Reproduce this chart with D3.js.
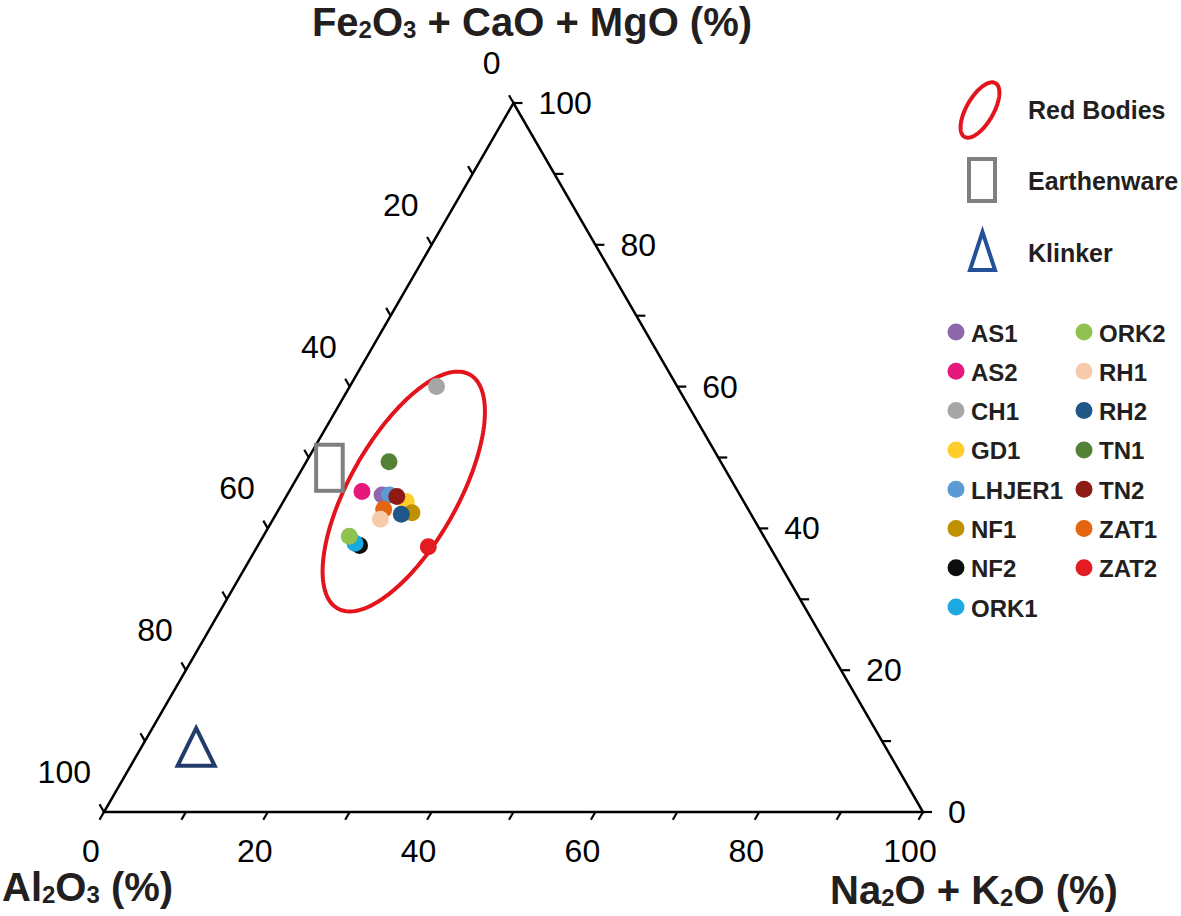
<!DOCTYPE html>
<html>
<head>
<meta charset="utf-8">
<script src="https://cdn.jsdelivr.net/npm/d3@7"></script>
<style>
  body { margin: 0; background: #fff; }
  svg { display: block; font-family: "Liberation Sans", Arial, Helvetica, sans-serif; }
</style>
</head>
<body>
<div id="chart"></div>
<script>
// Sample names, in legend order
var samples = ['AS1', 'AS2', 'CH1', 'GD1', 'LHJER1', 'NF1', 'NF2', 'ORK1',
  'ORK2', 'RH1', 'RH2', 'TN1', 'TN2', 'ZAT1', 'ZAT2'];
// Composition (%)
var al2o3  = [43.7, 45.9, 29.4, 41.2, 42.8, 41.3, 50.0, 50.4, 50.6, 45.6, 42.7, 40.5, 42.0, 44.5, 41.7];
var alkali = [11.6,  8.9, 10.6, 15.0, 12.5, 16.5, 12.4, 11.7, 10.5, 13.1, 15.3, 10.1, 13.5, 12.8, 20.9];
var femgca = [44.7, 45.2, 60.0, 43.8, 44.7, 42.2, 37.6, 37.9, 38.9, 41.3, 42.0, 49.4, 44.5, 42.7, 37.4];
var colors = ['#8d68ad', '#e5197b', '#a6a6a6', '#ffcd2c', '#5b9bd5', '#bf9000', '#0d0d0d', '#1ba9e1',
  '#8fc250', '#f8cbad', '#1f5788', '#538135', '#8e1a16', '#e3650f', '#e31b23'];
// drawing order (RH1 sits on top of ZAT1)
var drawOrder = ['AS1', 'AS2', 'CH1', 'GD1', 'LHJER1', 'NF1', 'NF2', 'ORK1',
  'ORK2', 'ZAT1', 'RH1', 'RH2', 'TN1', 'TN2', 'ZAT2'];

// Fields: [Al2O3, Na2O+K2O, Fe2O3+CaO+MgO]
var redBodiesCenter = [40.8, 14.0, 45.2];
var earthenwareCorners = [[48.2, 0.0, 51.8], [48.2, 6.5, 45.3]];
var klinkerCenter = [84.6, 7.1, 8.3];

var tickValues = d3.range(0, 101, 10);
var labelValues = d3.range(0, 101, 20);

var width = 1181, height = 916;
var ink = '#231f20';

var svg = d3.select('#chart').append('svg')
  .attr('width', width)
  .attr('height', height);

// Cartesian scales for the unit triangle
var x = d3.scaleLinear().domain([0, 1]).range([104, 923]);
var y = d3.scaleLinear().domain([0, Math.sqrt(3) / 2]).range([812, 103]);

function proj(a, b, c) {
  var s = a + b + c;
  b = b / s; c = c / s;
  return [x(b + c / 2), y(c * Math.sqrt(3) / 2)];
}

// Text with subscripts: "_2" marks a subscript digit
function richText(sel, str) {
  var parts = str.split(/(_\d)/).filter(function (d) { return d.length; });
  var shifted = false;
  parts.forEach(function (p) {
    var t = sel.append('tspan');
    if (p[0] === '_') {
      t.text(p.slice(1)).attr('font-size', '60%').attr('dy', shifted ? 0 : 2);
      shifted = true;
    } else {
      t.text(p).attr('dy', shifted ? -2 : 0);
      shifted = false;
    }
  });
}

// Triangle outline
svg.append('path')
  .attr('d', d3.line()([proj(100, 0, 0), proj(0, 100, 0), proj(0, 0, 100)]) + 'Z')
  .attr('fill', 'none')
  .attr('stroke', '#000')
  .attr('stroke-width', 2.5)
  .attr('stroke-linejoin', 'miter');

var tickLen = 9;
var axes = [
  // Al2O3 on the left edge
  { pos: function (v) { return proj(v, 0, 100 - v); }, dir: [-0.5, -0.866],
    lx: -13, ly: -29, anchor: 'end' },
  // Na2O + K2O along the bottom
  { pos: function (v) { return proj(100 - v, v, 0); }, dir: [-0.5, 0.866],
    lx: -13, ly: 50, anchor: 'middle' },
  // Fe2O3 + CaO + MgO on the right edge
  { pos: function (v) { return proj(0, 100 - v, v); }, dir: [1, 0],
    lx: 25, ly: 11, anchor: 'start' }
];

axes.forEach(function (ax) {
  var g = svg.append('g');
  g.selectAll('line')
    .data(tickValues)
    .enter()
    .append('line')
    .attr('x1', function (v) { return ax.pos(v)[0]; })
    .attr('y1', function (v) { return ax.pos(v)[1]; })
    .attr('x2', function (v) { return ax.pos(v)[0] + tickLen * ax.dir[0]; })
    .attr('y2', function (v) { return ax.pos(v)[1] + tickLen * ax.dir[1]; })
    .attr('stroke', '#000')
    .attr('stroke-width', 2.2);
  g.selectAll('text')
    .data(labelValues)
    .enter()
    .append('text')
    .attr('x', function (v) { return ax.pos(v)[0] + ax.lx; })
    .attr('y', function (v) { return ax.pos(v)[1] + ax.ly; })
    .attr('text-anchor', ax.anchor)
    .attr('font-size', 32)
    .attr('fill', '#000')
    .text(function (v) { return v; });
});

// Axis titles
richText(svg.append('text')
  .attr('x', 532).attr('y', 36)
  .attr('text-anchor', 'middle')
  .attr('font-size', 40).attr('font-weight', 'bold').attr('fill', ink),
  'Fe_2O_3 + CaO + MgO (%)');
richText(svg.append('text')
  .attr('x', 2).attr('y', 901)
  .attr('font-size', 40).attr('font-weight', 'bold').attr('fill', ink),
  'Al_2O_3 (%)');
richText(svg.append('text')
  .attr('x', 830).attr('y', 904)
  .attr('font-size', 40).attr('font-weight', 'bold').attr('fill', ink),
  'Na_2O + K_2O (%)');

// Red bodies field (ellipse)
var side = x(1) - x(0);
function ellipsePts(cx, cy, ra, rb, deg) {
  var phi = deg * Math.PI / 180;
  return d3.range(0, 360, 2).map(function (t) {
    t = t * Math.PI / 180;
    return [cx + ra * Math.cos(t) * Math.cos(phi) - rb * Math.sin(t) * Math.sin(phi),
            cy - (ra * Math.cos(t) * Math.sin(phi) + rb * Math.sin(t) * Math.cos(phi))];
  });
}
var ec = proj.apply(null, redBodiesCenter);
svg.append('path')
  .attr('d', d3.line().curve(d3.curveLinearClosed)(ellipsePts(ec[0], ec[1], 0.164 * side, 0.066 * side, 60.5)))
  .attr('fill', 'none')
  .attr('stroke', '#e3141b')
  .attr('stroke-width', 4);

// Earthenware field (rectangle)
var r0 = proj.apply(null, earthenwareCorners[0]),
  r1 = proj.apply(null, earthenwareCorners[1]);
svg.append('rect')
  .attr('x', r0[0]).attr('y', r0[1])
  .attr('width', r1[0] - r0[0]).attr('height', r1[1] - r0[1])
  .attr('fill', 'none')
  .attr('stroke', '#808080')
  .attr('stroke-width', 4);

// Klinker field (triangle)
var kc = proj.apply(null, klinkerCenter);
svg.append('path')
  .attr('d', d3.line()([[kc[0], kc[1] - 25], [kc[0] + 18.5, kc[1] + 12.5], [kc[0] - 18.5, kc[1] + 12.5]]) + 'Z')
  .attr('fill', 'none')
  .attr('stroke', '#213b6b')
  .attr('stroke-width', 4);

// Sample points
var pts = samples.map(function (s, i) {
  var p = proj(al2o3[i], alkali[i], femgca[i]);
  return { name: s, x: p[0], y: p[1], color: colors[i] };
});
pts.sort(function (a, b) { return drawOrder.indexOf(a.name) - drawOrder.indexOf(b.name); });
svg.append('g').selectAll('circle')
  .data(pts)
  .enter()
  .append('circle')
  .attr('cx', function (d) { return d.x; })
  .attr('cy', function (d) { return d.y; })
  .attr('r', 8.5)
  .attr('fill', function (d) { return d.color; });

// Field legend
var lg = svg.append('g').attr('font-size', 25).attr('font-weight', 'bold').attr('fill', ink);
lg.append('path')
  .attr('d', d3.line().curve(d3.curveLinearClosed)(ellipsePts(980, 110, 31, 13.5, 60)))
  .attr('fill', 'none').attr('stroke', '#e3141b').attr('stroke-width', 4);
lg.append('text').attr('x', 1028).attr('y', 119).text('Red Bodies');
lg.append('rect')
  .attr('x', 969).attr('y', 159).attr('width', 26).attr('height', 42)
  .attr('fill', 'none').attr('stroke', '#808080').attr('stroke-width', 4);
lg.append('text').attr('x', 1028).attr('y', 190).text('Earthenware');
lg.append('path')
  .attr('d', 'M982.5,232L995,270L970,270Z')
  .attr('fill', 'none').attr('stroke', '#24509a').attr('stroke-width', 4);
lg.append('text').attr('x', 1028).attr('y', 262).text('Klinker');

// Sample legend, two columns
var sl = svg.append('g').attr('font-size', 24).attr('font-weight', 'bold').attr('fill', ink);
var items = sl.selectAll('g')
  .data(samples)
  .enter()
  .append('g')
  .attr('transform', function (d, i) {
    var col = i < 8 ? 0 : 1, row = i < 8 ? i : i - 8;
    return 'translate(' + (956 + col * 128) + ',' + (332 + row * 39.3) + ')';
  });
items.append('circle')
  .attr('r', 8.5)
  .attr('fill', function (d, i) { return colors[i]; });
items.append('text')
  .attr('x', 15)
  .attr('y', 9.5)
  .text(function (d) { return d; });
</script>
</body>
</html>
